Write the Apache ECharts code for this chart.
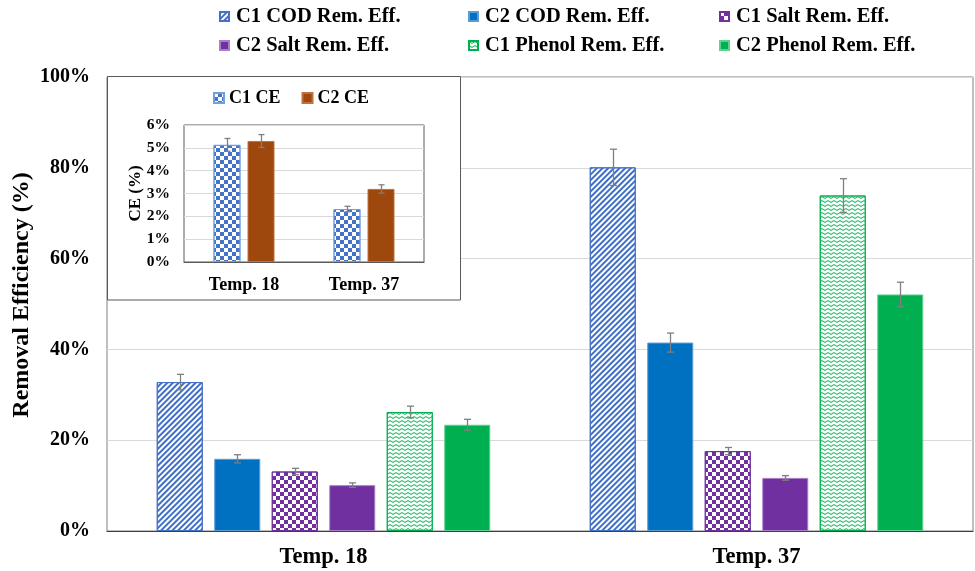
<!DOCTYPE html>
<html>
<head>
<meta charset="utf-8">
<script src="https://cdn.jsdelivr.net/npm/echarts@6/dist/echarts.min.js"></script>
<style>html,body{margin:0;padding:0;background:#fff}#c{width:975px;height:571px}</style>
</head>
<body>
<div id="c"></div>
<script>
// ---- data ----
const categories = ['Temp. 18', 'Temp. 37'];
const yTicks = [0, 20, 40, 60, 80, 100];
const c1Cod = [32.8, 80.1];    const errC1Cod = [1.7, 4.0];
const c2Cod = [15.9, 41.5];    const errC2Cod = [0.9, 2.1];
const c1Salt = [13.1, 17.6];   const errC1Salt = [0.7, 0.8];
const c2Salt = [10.1, 11.7];   const errC2Salt = [0.5, 0.5];
const c1Phenol = [26.2, 73.9]; const errC1Phenol = [1.3, 3.7];
const c2Phenol = [23.4, 52.1]; const errC2Phenol = [1.2, 2.7];
const ceCategories = ['Temp. 18', 'Temp. 37'];
const ceTicks = [0, 1, 2, 3, 4, 5, 6];
const c1Ce = [5.13, 2.32]; const errC1Ce = [0.28, 0.12];
const c2Ce = [5.30, 3.20]; const errC2Ce = [0.28, 0.18];
const mainNames = ['C1 COD Rem. Eff.', 'C2 COD Rem. Eff.', 'C1 Salt Rem. Eff.', 'C2 Salt Rem. Eff.', 'C1 Phenol Rem. Eff.', 'C2 Phenol Rem. Eff.'];
const ceNames = ['C1 CE', 'C2 CE'];

// ---- styles ----
const FONT = "'Liberation Serif', 'Times New Roman', serif";
const BLUE = '#4472C4', DBLUE = '#0070C0', PURPLE = '#7030A0', GREEN = '#00B050', BROWN = '#9E480E';
const stripes = { symbol: 'rect', symbolSize: 1, color: '#3f6fc6', dashArrayX: [1, 0], dashArrayY: [1.7, 1.3], rotation: -Math.PI / 4 };
const checkerP = { symbol: 'rect', symbolSize: 1, color: PURPLE, dashArrayX: [[4, 4], [0, 4, 4, 0]], dashArrayY: [4, 0] };
const checkerB = { symbol: 'rect', symbolSize: 1, color: BLUE, dashArrayX: [[4, 4], [0, 4, 4, 0]], dashArrayY: [4, 0] };
const zigzag = { symbol: 'path://M0,0L5,3L10,0L10,1.8L5,4.8L0,1.8Z', symbolSize: 1, color: '#2dbb6a', dashArrayX: [6, 0], dashArrayY: [3, 1] };

const mainStyles = [
  { color: '#ffffff', borderColor: BLUE, borderWidth: 1, decal: stripes },
  { color: DBLUE, borderColor: '#5b9bd5', borderWidth: 1 },
  { color: '#ffffff', borderColor: PURPLE, borderWidth: 1, decal: checkerP },
  { color: PURPLE, borderColor: '#a77fc8', borderWidth: 1 },
  { color: '#ffffff', borderColor: GREEN, borderWidth: 1, decal: zigzag },
  { color: GREEN, borderColor: '#5fd08f', borderWidth: 1 }
];
const mainVals = [c1Cod, c2Cod, c1Salt, c2Salt, c1Phenol, c2Phenol];
const mainErrs = [errC1Cod, errC2Cod, errC1Salt, errC2Salt, errC1Phenol, errC2Phenol];
const ceStyles = [
  { color: '#ffffff', borderColor: '#6fa0e0', borderWidth: 1, decal: checkerB },
  { color: BROWN, borderColor: '#c0703a', borderWidth: 1 }
];
const ceVals = [c1Ce, c2Ce];
const ceErrs = [errC1Ce, errC2Ce];

function makeErr(name, vals, errs, idx, n, step, cap, xi, yi, z) {
  return {
    type: 'custom', name: name, xAxisIndex: xi, yAxisIndex: yi, z: z, silent: true,
    encode: { x: 0, y: [1, 2] },
    data: vals.map((v, i) => [i, v - errs[i], v + errs[i]]),
    renderItem: function (params, api) {
      const c = api.value(0);
      const x = Math.round(api.coord([c, 0])[0] + (idx - (n - 1) / 2) * step) + 0.5;
      const y1 = api.coord([c, api.value(1)])[1];
      const y2 = api.coord([c, api.value(2)])[1];
      const st = { stroke: '#7f7f7f', lineWidth: 1.3 };
      return { type: 'group', children: [
        { type: 'line', shape: { x1: x, y1: y1, x2: x, y2: y2 }, style: st },
        { type: 'line', shape: { x1: x - cap, y1: y1, x2: x + cap, y2: y1 }, style: st },
        { type: 'line', shape: { x1: x - cap, y1: y2, x2: x + cap, y2: y2 }, style: st }
      ] };
    }
  };
}

const series = [];
mainNames.forEach((nm, i) => {
  series.push({ type: 'bar', name: nm, xAxisIndex: 0, yAxisIndex: 0, data: mainVals[i], barWidth: 46, barGap: '25%', itemStyle: mainStyles[i], z: 2 });
});
mainNames.forEach((nm, i) => {
  series.push(makeErr('err' + i, mainVals[i], mainErrs[i], i, 6, 57.5, 3.5, 0, 0, 3));
});
ceNames.forEach((nm, i) => {
  series.push({ type: 'bar', name: nm, xAxisIndex: 1, yAxisIndex: 1, data: ceVals[i], barWidth: 27, barGap: '26%', itemStyle: ceStyles[i], z: 6 });
});
ceNames.forEach((nm, i) => {
  series.push(makeErr('ceerr' + i, ceVals[i], ceErrs[i], i, 2, 34, 3, 1, 1, 7));
});

const legText = { fontFamily: FONT, fontWeight: 'bold', fontSize: 20.5, color: '#000', lineHeight: 20, padding: [0, 0, 0, 2] };
function mkLegend(left, names) {
  return { orient: 'vertical', left: left, top: 1, icon: 'rect', itemWidth: 9, itemHeight: 9, itemGap: 8, data: names, textStyle: legText, selectedMode: false };
}

const option = {
  backgroundColor: '#fff',
  animation: false,
  legend: [
    mkLegend(214, [mainNames[0], mainNames[3]]),
    mkLegend(463, [mainNames[1], mainNames[4]]),
    mkLegend(714, [mainNames[2], mainNames[5]]),
    { orient: 'horizontal', left: 208, top: 84, icon: 'rect', itemWidth: 10, itemHeight: 10, itemGap: 21, data: ceNames, z: 8, selectedMode: false,
      textStyle: { fontFamily: FONT, fontWeight: 'bold', fontSize: 18, color: '#000', lineHeight: 18, padding: [0, 0, 0, 0] } }
  ],
  graphic: {
    z: 3,
    elements: [{ type: 'rect', z: 3, silent: true, shape: { x: 107.5, y: 76.5, width: 353, height: 223.5 }, style: { fill: '#fff', stroke: '#595959', lineWidth: 1 } }]
  },
  grid: [
    { left: 107, right: 2, top: 77, bottom: 40, outerBoundsMode: 'none', containLabel: false, show: true, borderColor: '#7f7f7f', borderWidth: 1, backgroundColor: 'transparent' },
    { left: 184, top: 125, width: 240, height: 137, outerBoundsMode: 'none', containLabel: false, show: true, borderColor: '#595959', borderWidth: 1, z: 4 }
  ],
  xAxis: [
    { type: 'category', gridIndex: 0, data: categories,
      axisLine: { lineStyle: { color: '#404040', width: 1.2 } }, axisTick: { show: false },
      axisLabel: { margin: 15, fontFamily: FONT, fontWeight: 'bold', fontSize: 22.5, color: '#000' } },
    { type: 'category', gridIndex: 1, data: ceCategories, z: 5,
      axisLine: { lineStyle: { color: '#595959' } }, axisTick: { show: false },
      axisLabel: { margin: 14, fontFamily: FONT, fontWeight: 'bold', fontSize: 18, color: '#000' } }
  ],
  yAxis: [
    { type: 'value', gridIndex: 0, min: yTicks[0], max: yTicks[yTicks.length - 1], interval: yTicks[1] - yTicks[0],
      name: 'Removal Efficiency (%)', nameLocation: 'middle', nameGap: 73, nameMoveOverlap: false,
      nameTextStyle: { fontFamily: FONT, fontWeight: 'bold', fontSize: 24, color: '#000', padding: [0, 0, 0, 18] },
      axisLine: { show: false }, axisTick: { show: false },
      axisLabel: { margin: 17, formatter: '{value}%', fontFamily: FONT, fontWeight: 'bold', fontSize: 20, color: '#000' },
      splitLine: { lineStyle: { color: '#d9d9d9', width: 1 } } },
    { type: 'value', gridIndex: 1, min: ceTicks[0], max: ceTicks[ceTicks.length - 1], interval: ceTicks[1] - ceTicks[0], z: 5,
      name: 'CE (%)', nameLocation: 'middle', nameGap: 40, nameMoveOverlap: false,
      nameTextStyle: { fontFamily: FONT, fontWeight: 'bold', fontSize: 17, color: '#000' },
      axisLine: { show: false }, axisTick: { show: false },
      axisLabel: { margin: 14, formatter: '{value}%', fontFamily: FONT, fontWeight: 'bold', fontSize: 15.5, color: '#000' },
      splitLine: { lineStyle: { color: '#d9d9d9', width: 1 } } }
  ],
  series: series
};

const chart = echarts.init(document.getElementById('c'), null, { renderer: 'canvas' });
chart.setOption(option);
</script>
</body>
</html>
